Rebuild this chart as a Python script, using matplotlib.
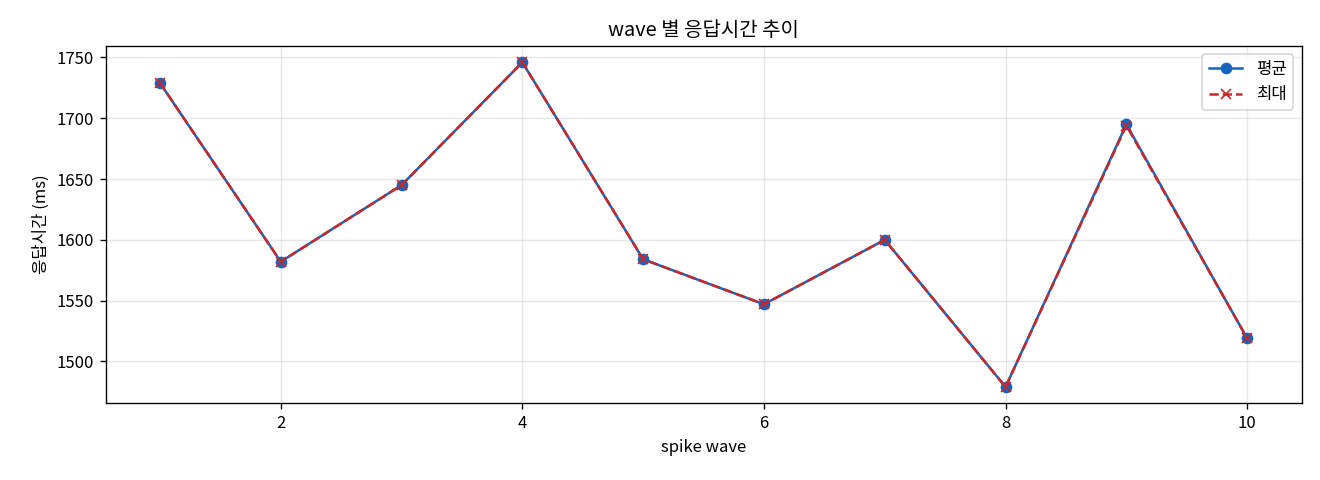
import matplotlib
matplotlib.use("Agg")
import matplotlib.pyplot as plt

plt.rcParams['font.family'] = ['Noto Sans CJK KR', 'DejaVu Sans']
plt.rcParams['axes.unicode_minus'] = False

waves = [1, 2, 3, 4, 5, 6, 7, 8, 9, 10]
avg_ms = [1729, 1582, 1645, 1746, 1584, 1547, 1600, 1479, 1695, 1519]
max_ms = [1729, 1582, 1645, 1746, 1584, 1547, 1600, 1479, 1694, 1519]

fig, ax = plt.subplots(figsize=(11, 4), dpi=120)
ax.plot(waves, avg_ms, marker='o', color='#1565c0', linewidth=1.5, markersize=6, label='평균')
ax.plot(waves, max_ms, marker='x', linestyle='--', color='#c62828', linewidth=1.5, markersize=6, label='최대')

ax.set_title('wave 별 응답시간 추이')
ax.set_xlabel('spike wave')
ax.set_ylabel('응답시간 (ms)')
ax.grid(True, alpha=0.3)
ax.legend(loc='upper right')

fig.subplots_adjust(left=0.08, right=0.986, top=0.904, bottom=0.16)
fig.savefig('out.png')
